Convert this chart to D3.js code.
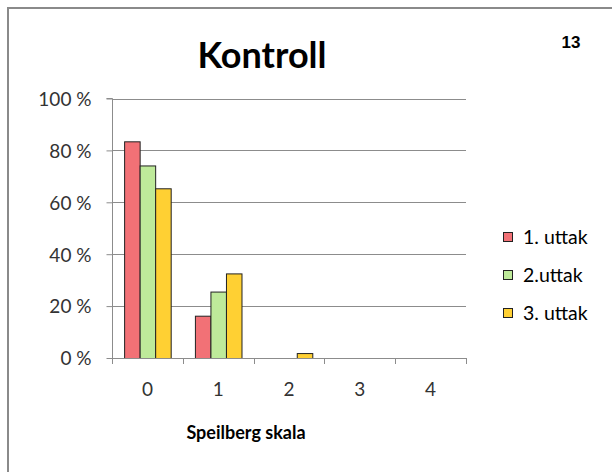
<!DOCTYPE html>
<html><head><meta charset="utf-8">
<script src="https://cdn.jsdelivr.net/npm/d3@7"></script>
<style>body{margin:0;background:#fff;} svg{display:block;}</style>
</head><body>
<svg id="c" width="612" height="472"></svg>
<script>
const categories = ["0","1","2","3","4"];
const seriesNames = ["1. uttak","2.uttak","3. uttak"];
const uttak1 = [83.5, 16.3, 0, 0, 0];
const uttak2 = [74.2, 25.6, 0, 0, 0];
const uttak3 = [65.4, 32.6, 1.9, 0, 0];
const yTicks = [0,20,40,60,80,100];
const colors = ["#F27176","#BEEA9A","#FFD033"];

const svg = d3.select("#c");
const font = "Lato, 'Open Sans', sans-serif";
// outer frame
svg.append("path").attr("d","M8,480 L8,8 L620,8").attr("fill","none").attr("stroke","#8a8a8a").attr("stroke-width",2);

const m = {l:112, t:98.5, r:466, b:358};
const x = d3.scaleBand().domain(categories).range([m.l,m.r]).paddingInner(0).paddingOuter(0);
const y = d3.scaleLinear().domain([0,100]).range([m.b,m.t]);
const grp = d3.scaleBand().domain(seriesNames).range([0,x.bandwidth()]).paddingInner(0).paddingOuter(0.78);

// gridlines
svg.append("g").selectAll("line").data(yTicks.filter(d=>d>0)).join("line")
  .attr("x1",m.l).attr("x2",m.r).attr("y1",d=>Math.round(y(d))+0.5).attr("y2",d=>Math.round(y(d))+0.5)
  .attr("stroke","#8c8c8c").attr("stroke-width",1);

// y axis
const yAxis = d3.axisLeft(y).tickValues(yTicks).tickFormat(d=>d+" %").tickSize(6).tickPadding(15);
const gy = svg.append("g").attr("transform",`translate(${m.l+0.5},0)`).call(yAxis);
gy.select(".domain").attr("stroke","#8c8c8c").attr("d",`M-6,${m.t}H0V${m.b}`);
gy.selectAll(".tick line").attr("stroke","#8c8c8c");
gy.selectAll(".tick text").attr("font-family",font).attr("font-size",19).attr("fill","#333").attr("dy","0.36em");

// bars
const data = [uttak1,uttak2,uttak3];
data.forEach((vals,si)=>{
  svg.append("g").selectAll("rect").data(vals.map((v,i)=>({v,c:categories[i]})).filter(d=>d.v>0)).join("rect")
    .attr("x",d=>x(d.c)+grp(seriesNames[si])+0.5)
    .attr("y",d=>y(d.v)+0.5)
    .attr("width",grp.bandwidth())
    .attr("height",d=>m.b-y(d.v))
    .attr("fill",colors[si]).attr("stroke","#222").attr("stroke-width",1);
});

// x axis
const xAxis = d3.axisBottom(x).tickSize(0).tickPadding(24);
const gx = svg.append("g").attr("transform",`translate(0,${m.b+0.5})`).call(xAxis);
gx.select(".domain").attr("stroke","#8c8c8c").attr("d",`M${m.l},0H${m.r}`);
gx.selectAll(".tick text").attr("font-family",font).attr("font-size",19).attr("fill","#333");
svg.append("g").selectAll("line").data(categories.concat(["end"])).join("line")
  .attr("x1",(d,i)=>Math.round(m.l+i*x.bandwidth())+0.5).attr("x2",(d,i)=>Math.round(m.l+i*x.bandwidth())+0.5)
  .attr("y1",m.b).attr("y2",m.b+6).attr("stroke","#8c8c8c");

// titles
svg.append("text").attr("x",262).attr("y",68).attr("text-anchor","middle")
  .attr("font-family",font).attr("font-weight","bold").attr("font-size",36).attr("fill","#000").text("Kontroll");
svg.append("text").attr("x",571).attr("y",48).attr("text-anchor","middle")
  .attr("font-family","'Liberation Sans', Arial, sans-serif").attr("font-weight","bold").attr("font-size",17).attr("fill","#000").text("13");
svg.append("text").attr("x",246).attr("y",439).attr("text-anchor","middle")
  .attr("font-family",font).attr("font-weight","bold").attr("font-size",18).attr("fill","#000").text("Speilberg skala");

// legend
const lg = svg.append("g").selectAll("g").data(seriesNames).join("g")
  .attr("transform",(d,i)=>`translate(503,${237+i*38})`);
lg.append("rect").attr("x",0.5).attr("y",-4.5).attr("width",9).attr("height",9)
  .attr("fill",(d,i)=>colors[i]).attr("stroke","#222");
lg.append("text").attr("x",20).attr("y",0).attr("dy","0.36em").attr("font-family",font).attr("font-size",19.5).attr("fill","#000").text(d=>d);
</script>
</body></html>
